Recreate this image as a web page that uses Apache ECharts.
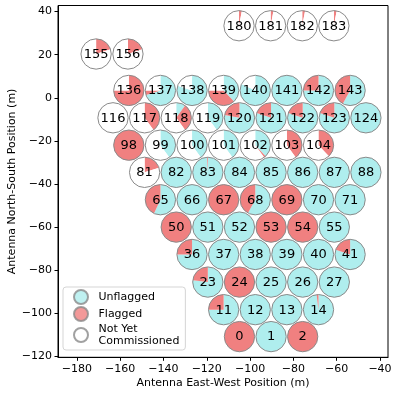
<!DOCTYPE html>
<html><head><meta charset="utf-8">
<script src="https://cdn.jsdelivr.net/npm/echarts@6/dist/echarts.min.js"></script>
<style>html,body{margin:0;padding:0;background:#fff}#c{width:399px;height:396px}</style>
</head><body><div id="c"></div>
<script>
// Antenna numbers
const antennas = [
  0,1,2,
  11,12,13,14,
  23,24,25,26,27,
  36,37,38,39,40,41,
  50,51,52,53,54,55,
  65,66,67,68,69,70,71,
  81,82,83,84,85,86,87,88,
  98,99,100,101,102,103,104,
  116,117,118,119,120,121,122,123,124,
  136,137,138,139,140,141,142,143,
  155,156,
  180,181,182,183
];
// East-West position (m)
const east = [
  -104.9,-90.3,-75.7,
  -112.2,-97.6,-83.0,-68.4,
  -119.5,-104.9,-90.3,-75.7,-61.1,
  -126.8,-112.2,-97.6,-83.0,-68.4,-53.8,
  -134.1,-119.5,-104.9,-90.3,-75.7,-61.1,
  -141.4,-126.8,-112.2,-97.6,-83.0,-68.4,-53.8,
  -148.7,-134.1,-119.5,-104.9,-90.3,-75.7,-61.1,-46.5,
  -156.0,-141.4,-126.8,-112.2,-97.6,-83.0,-68.4,
  -163.3,-148.7,-134.1,-119.5,-104.9,-90.3,-75.7,-61.1,-46.5,
  -156.0,-141.4,-126.8,-112.2,-97.6,-83.0,-68.4,-53.8,
  -171.1,-156.4,
  -105.1,-90.5,-75.9,-61.3
];
// North-South position (m)
const north = [
  -110.8,-110.8,-110.8,
  -98.3,-98.3,-98.3,-98.3,
  -85.5,-85.5,-85.5,-85.5,-85.5,
  -72.7,-72.7,-72.7,-72.7,-72.7,-72.7,
  -60.0,-60.0,-60.0,-60.0,-60.0,-60.0,
  -47.3,-47.3,-47.3,-47.3,-47.3,-47.3,-47.3,
  -34.6,-34.6,-34.6,-34.6,-34.6,-34.6,-34.6,-34.6,
  -22.0,-22.0,-22.0,-22.0,-22.0,-22.0,-22.0,
  -9.3,-9.3,-9.3,-9.3,-9.3,-9.3,-9.3,-9.3,-9.3,
  3.4,3.4,3.4,3.4,3.4,3.4,3.4,3.4,
  20.3,20.3,
  33.4,33.4,33.4,33.4
];
// Fraction unflagged
const unflagged = [
  0,1,0,
  0.75,1,1,0.98,
  0.77,0,1,1,1,
  0.75,1,1,1,1,0.80,
  0,1,1,0,0,1,
  0.57,1,0,0.58,0,1,1,
  0,1,0.99,1,1,1,1,1,
  0,0.40,0.40,0.40,0.38,0,0,
  0,0,0.10,0.40,0.78,0.80,0.80,0.80,1,
  0,0.70,0.80,0.38,0.82,1,0.75,0.58,
  0,0,
  0,0,0,0
];
// Fraction flagged (remainder is not yet commissioned)
const flagged = [
  1,0,1,
  0.25,0,0,0.02,
  0.23,1,0,0,0,
  0.25,0,0,0,0,0.20,
  1,0,0,1,1,0,
  0.43,0,1,0.42,1,0,0,
  0.20,0,0.01,0,0,0,0,0,
  1,0,0,0,0.02,0.40,0.38,
  0,0.40,0.30,0,0.22,0.20,0.20,0.20,0,
  0.75,0.05,0,0.37,0,0,0.25,0.42,
  0.20,0.20,
  0.03,0.03,0.03,0.03
];
const xTicks = [-180,-160,-140,-120,-100,-80,-60,-40];
const yTicks = [-120,-100,-80,-60,-40,-20,0,20,40];
const legendNames = ['Unflagged','Flagged','Not Yet Commissioned'];

const CYAN = '#afeeee', RED = '#f08080', WHITE = '#ffffff', EDGE = '#8a8a8a';
const DISH_R = 7;
const FONT = '"DejaVu Sans", sans-serif';

const data = antennas.map((a, i) => [east[i], north[i], unflagged[i], flagged[i], a]);

function renderItem(params, api) {
  const c = api.coord([api.value(0), api.value(1)]);
  const r = api.size([DISH_R, DISH_R])[0];
  const u = api.value(2), f = api.value(3);
  const fr = [u, f, Math.max(0, 1 - u - f)];
  const cols = [CYAN, RED, WHITE];
  const children = [];
  let a = -Math.PI / 2;
  for (let k = 0; k < 3; k++) {
    if (fr[k] <= 1e-6) continue;
    const b = a + fr[k] * 2 * Math.PI;
    children.push({type: 'sector', shape: {cx: c[0], cy: c[1], r0: 0, r: r, startAngle: a, endAngle: b, clockwise: true},
      style: {fill: cols[k], stroke: null}});
    a = b;
  }
  children.push({type: 'circle', shape: {cx: c[0], cy: c[1], r: r}, style: {fill: null, stroke: EDGE, lineWidth: 1}});
  children.push({type: 'text', x: c[0], y: c[1] + 0.5, style: {text: String(api.value(4)), fill: '#000',
    fontSize: 13, fontFamily: FONT, align: 'center', verticalAlign: 'middle'}});
  return {type: 'group', children: children};
}

const minus = v => String(v).replace('-', '\u2212');
const chart = echarts.init(document.getElementById('c'), null, {renderer: 'canvas'});
chart.setOption({
  animation: false,
  backgroundColor: '#fff',
  grid: {left: 58, right: 11, top: 5.5, bottom: 38.7, containLabel: false, outerBoundsMode: 'none',
    show: true, borderColor: '#000', borderWidth: 1, backgroundColor: 'transparent'},
  xAxis: {
    type: 'value', min: -188.7, max: -36.3,
    name: 'Antenna East-West Position (m)', nameLocation: 'middle', nameGap: 20, nameMoveOverlap: false,
    nameTextStyle: {fontSize: 11, fontFamily: FONT, color: '#000'},
    splitLine: {show: false},
    axisLine: {show: true, onZero: false, lineStyle: {color: '#000', width: 1}},
    axisTick: {show: true, length: 3.5, customValues: xTicks, lineStyle: {color: '#000'}},
    axisLabel: {customValues: xTicks, fontSize: 11, fontFamily: FONT, color: '#000', margin: 6, formatter: minus}
  },
  yAxis: {
    type: 'value', min: -120.4, max: 42.8,
    name: 'Antenna North-South Position (m)', nameLocation: 'middle', nameGap: 40, nameMoveOverlap: false,
    nameTextStyle: {fontSize: 11, fontFamily: FONT, color: '#000'},
    splitLine: {show: false},
    axisLine: {show: true, onZero: false, lineStyle: {color: '#000', width: 1}},
    axisTick: {show: true, length: 3.5, customValues: yTicks, lineStyle: {color: '#000'}},
    axisLabel: {customValues: yTicks, fontSize: 11, fontFamily: FONT, color: '#000', margin: 6, formatter: minus}
  },
  legend: {
    orient: 'vertical', left: 63, top: 287,
    data: legendNames,
    icon: 'circle', itemWidth: 25, itemHeight: 14, itemGap: 1,
    textStyle: {fontSize: 11, fontFamily: FONT, color: '#000', lineHeight: 12},
    formatter: n => n === 'Not Yet Commissioned' ? 'Not Yet\nCommissioned' : n,
    backgroundColor: 'rgba(255,255,255,0.8)', borderColor: '#d5d5d5', borderWidth: 1, borderRadius: 3,
    padding: [2, 6, 3, 10], selectedMode: false
  },
  series: [
    {type: 'custom', coordinateSystem: 'cartesian2d', renderItem: renderItem, data: data, clip: false, silent: true},
    {type: 'scatter', name: legendNames[0], data: [], itemStyle: {color: CYAN, borderColor: EDGE, borderWidth: 1}},
    {type: 'scatter', name: legendNames[1], data: [], itemStyle: {color: RED, borderColor: EDGE, borderWidth: 1}},
    {type: 'scatter', name: legendNames[2], data: [], itemStyle: {color: WHITE, borderColor: EDGE, borderWidth: 1}}
  ]
});
</script></body></html>
